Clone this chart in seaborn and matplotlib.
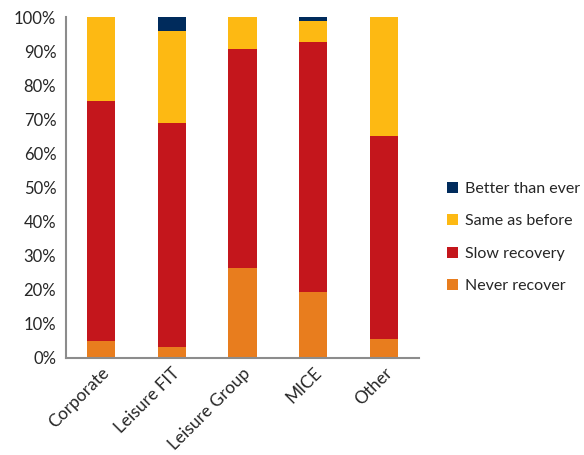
import matplotlib
matplotlib.use("Agg")
import matplotlib.pyplot as plt
import seaborn as sns
import numpy as np
from matplotlib.ticker import FixedLocator, PercentFormatter

categories = ["Corporate", "Leisure FIT", "Leisure Group", "MICE", "Other"]
never_recover = [5.1, 3.3, 26.3, 19.3, 5.6]
slow_recovery = [70.3, 65.5, 64.4, 73.4, 59.5]
same_as_before = [24.6, 27.0, 9.3, 6.1, 34.9]
better_than_ever = [0.0, 4.2, 0.0, 1.2, 0.0]

series = [
    ("Never recover", never_recover, "#E87D1E"),
    ("Slow recovery", slow_recovery, "#C4161C"),
    ("Same as before", same_as_before, "#FDB913"),
    ("Better than ever", better_than_ever, "#002B5C"),
]

sns.set_style("white")
plt.rcParams['font.family'] = ['Lato', 'DejaVu Sans']

fig = plt.figure(figsize=(5.84, 4.55), dpi=100)
ax = fig.add_axes([0.113, 0.2132, 0.6045, 0.7494])

bottom = np.zeros(len(categories))
for name, vals, col in series:
    sns.barplot(x=categories, y=vals, bottom=bottom, color=col, width=0.4,
                ax=ax, label=name, saturation=1, linewidth=0, legend=False)
    bottom = bottom + np.array(vals)

ax.set_xlim(-0.5, len(categories) - 0.5)
ax.set_ylim(0, 100)
ax.yaxis.set_major_locator(FixedLocator(np.arange(0, 101, 10)))
ax.yaxis.set_major_formatter(PercentFormatter(decimals=0))

ax.xaxis.set_minor_locator(FixedLocator(np.arange(-0.5, len(categories), 1.0)))
ax.tick_params(axis='x', which='major', length=0, pad=5, labelsize=12.5, labelcolor='#262626')
ax.tick_params(axis='x', which='minor', length=5, width=1.2, color='#8c8c8c', direction='out')
ax.tick_params(axis='y', which='major', length=5, width=1.2, color='#8c8c8c', direction='out',
               labelsize=12, labelcolor='#262626', pad=2)
for lbl in ax.get_xticklabels():
    lbl.set_rotation(45)
    lbl.set_ha('right')
    lbl.set_rotation_mode('anchor')

for s in ['top', 'right']:
    ax.spines[s].set_visible(False)
for s in ['left', 'bottom']:
    ax.spines[s].set_color('#8c8c8c')
    ax.spines[s].set_linewidth(1.5)

ax.set_xlabel("")
ax.set_ylabel("")

h, l = ax.get_legend_handles_labels()
leg = fig.legend(h[::-1], l[::-1], loc='upper left', bbox_to_anchor=(0.755, 0.615),
                 frameon=False, fontsize=11.5, handlelength=0.7, handleheight=0.7,
                 handletextpad=0.4, labelspacing=1.15, borderaxespad=0)
for t in leg.get_texts():
    t.set_color('#262626')

fig.savefig("out.png", dpi=100)
